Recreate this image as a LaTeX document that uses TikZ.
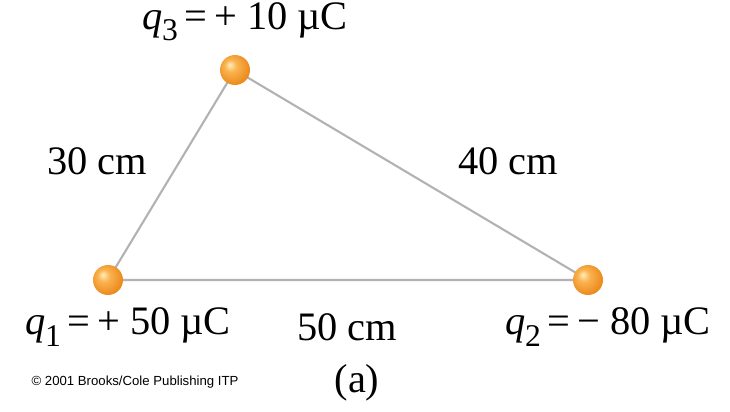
\documentclass[tikz,border=0pt]{standalone}
\usepackage{fontspec}
\setmainfont{Liberation Serif}
\newfontfamily\creditfont{Liberation Sans}
\definecolor{ballhi}{RGB}{255,238,190}
\definecolor{ballmid}{RGB}{250,180,80}
\definecolor{balllo}{RGB}{236,138,30}
\definecolor{sidegray}{RGB}{178,178,178}
\pgfdeclareradialshading{chargeball}{\pgfpoint{-9bp}{9bp}}{%
  color(0bp)=(ballhi); color(10bp)=(ballmid); color(28bp)=(balllo); color(50bp)=(balllo)}
\newcommand{\chg}[1]{\textit{q}\raisebox{-0.6ex}{\fontsize{18}{20}\selectfont #1}}
\tikzset{
  charge/.style={circle, minimum size=0.6cm, inner sep=0pt, shading=chargeball},
  side/.style={draw=sidegray, line width=1.2pt},
  lbl/.style={font=\fontsize{23}{28}\selectfont, inner sep=0pt}
}
\begin{document}
\begin{tikzpicture}
                \useasboundingbox (0,0) rectangle (14.6,8.22);
                \coordinate (A) at (2.16,2.62);
                \coordinate (B) at (11.76,2.62);
                \coordinate (C) at (4.70,6.82);
                % triangle
                \draw[side] (A) -- (B) -- (C) -- cycle;
                % charges
                \node[charge] (q1) at (A) {};
                \node[charge] (q2) at (B) {};
                \node[charge] (q3) at (C) {};
                %
                \node[lbl] (l3) at (4.9,7.78) {\chg{3}\,=\,+ 10 µC};
                \node[lbl] (l1) at (2.56,1.68) {\chg{1}\,=\,+ 50 µC};
                \node[lbl] (l2) at (12.16,1.68) {\chg{2}\,=\,− 80 µC};
                % sides
                \node[lbl] (d13) at (1.94,5.0) {30 cm};
                \node[lbl] (d23) at (10.16,5.0) {40 cm};
                \node[lbl] (d12) at (6.94,1.68) {50 cm};
                %
                \node[lbl] (cap) at (7.14,0.56) {(a)};
                \node[font=\creditfont\fontsize{7.5}{9}\selectfont, inner sep=0pt] (credit) at (2.7,0.58) {© 2001 Brooks/Cole Publishing ITP};
\end{tikzpicture}
\end{document}
